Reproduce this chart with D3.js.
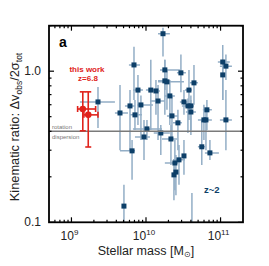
<!DOCTYPE html>
<meta charset="utf-8">
<script src="https://cdn.jsdelivr.net/npm/d3@7"></script>
<style>
body{margin:0;background:#fff;}
text{font-family:"Liberation Sans",Arial,sans-serif;}
</style>
<body>
<div id="chart"></div>
<script>
// z~2 sample: stellar mass (1e10 Msun), kinematic ratio and error ranges
var mass   = [1.69,0.69,1.79,2.94,10.7,11.8,10.7,1.79,1.91,4.4,0.78,1.16,1.36,3.77,2.09,1.45,3.23,0.227,0.61,0.855,3.65,4.0,6.56,4.0,0.448,0.711,2.23,2.68,5.98,6.37,11.8,1.03,1.58,0.94,2.16,5.6,7.2,0.65,3.23,2.77,2.44,2.52,2.37,0.506,4.13];
var massLo = [1.45,0.59,1.54,2.6,9.2,9.8,10.0,1.45,1.45,3.88,0.67,0.998,1.13,3.33,1.79,1.13,2.85,0.13,0.522,0.757,3.03,null,5.79,3.43,0.383,0.61,1.91,2.3,4.97,null,9.8,0.668,1.27,0.711,1.64,4.97,6.17,0.448,null,2.3,1.79,null,null,null,null];
var massHi = [2.09,0.83,2.85,3.43,13.3,14.2,11.4,1.97,3.23,4.97,0.91,1.36,1.54,4.13,2.44,1.79,3.65,0.383,0.711,1.24,4.4,null,7.65,4.67,0.573,0.883,2.68,3.03,7.65,null,14.2,1.64,2.09,1.13,2.6,6.17,9.5,0.711,null,3.33,2.68,null,null,null,null];
var ratio   = [1.77,1.10,1.02,0.975,1.15,1.08,0.945,0.863,0.85,0.837,0.75,0.75,0.74,0.75,0.686,0.635,0.626,0.626,0.589,0.598,0.589,0.589,0.555,0.537,0.529,0.514,0.506,0.455,0.476,0.476,0.476,0.415,0.39,0.367,0.356,0.316,0.288,0.297,0.275,0.259,0.247,0.215,0.206,0.128,0.085];
var ratioLo = [1.25,0.645,0.75,0.725,0.645,0.875,0.645,0.514,0.555,0.60,0.441,0.408,0.514,0.476,0.441,0.35,0.514,0.42,0.30,0.35,0.39,0.408,0.408,0.378,0.30,0.408,0.35,0.30,0.35,0.30,0.30,0.35,0.279,0.258,0.239,0.239,0.258,0.191,0.206,0.177,0.163,0.151,0.14,0.09,0.07];
var ratioHi = [1.94,1.45,1.19,1.29,1.49,1.29,1.19,1.19,1.02,1.10,0.945,1.19,0.875,1.02,0.875,0.81,0.75,0.785,0.75,0.69,0.66,0.69,0.645,0.645,0.81,0.645,0.69,0.555,0.60,0.555,0.75,0.476,0.441,0.476,0.441,0.476,0.35,0.35,0.35,0.325,0.35,0.279,0.258,0.177,0.156];

// this work, z=6.8
var redMass    = [0.142,0.168];
var redMassLo  = [0.121,0.147];
var redMassHi  = [0.211,0.227];
var redRatio   = [0.562,0.514];
var redRatioLo = [0.403,0.315];
var redRatioHi = [0.73,0.73];

var yMajor = [0.1, 1];
var yMinor = [0.2,0.3,0.4,0.5,0.6,0.7,0.8,0.9,2];
var xMajor = [1e9, 1e10, 1e11];
var xMinor = [6e8,7e8,8e8,9e8,2e9,3e9,4e9,5e9,6e9,7e9,8e9,9e9,2e10,3e10,4e10,5e10,6e10,7e10,8e10,9e10];
var divide = 0.4;

var width = 269, height = 266;
var x = d3.scaleLog().domain([5e8, 2e11]).range([49, 243]);
var y = d3.scaleLog().domain([0.1, 2]).range([222.3, 25.7]);

var svg = d3.select("#chart").append("svg")
    .attr("width", width)
    .attr("height", height);

svg.append("defs").append("clipPath").attr("id", "plot")
  .append("rect")
    .attr("x", 49).attr("y", 25.7)
    .attr("width", 194).attr("height", 196.6);

var navy = "#0d3f68", errc = "#93aec6", red = "#e0231c";

var blue = mass.map(function(m, i){
    return {m: m*1e10, v: ratio[i], mlo: massLo[i] && massLo[i]*1e10, mhi: massHi[i] && massHi[i]*1e10, vlo: ratioLo[i], vhi: ratioHi[i]};
});
var reds = redMass.map(function(m, i){
    return {m: m*1e10, v: redRatio[i], mlo: redMassLo[i]*1e10, mhi: redMassHi[i]*1e10, vlo: redRatioLo[i], vhi: redRatioHi[i]};
});

var plot = svg.append("g").attr("clip-path", "url(#plot)");

// error bars of z~2 points
plot.selectAll("line.ev").data(blue).enter().append("line")
    .attr("x1", function(d){ return x(d.m); }).attr("x2", function(d){ return x(d.m); })
    .attr("y1", function(d){ return y(d.vlo); }).attr("y2", function(d){ return y(d.vhi); })
    .attr("stroke", errc).attr("stroke-width", 1.5);
plot.selectAll("line.eh").data(blue.filter(function(d){ return d.mlo; })).enter().append("line")
    .attr("x1", function(d){ return x(d.mlo); }).attr("x2", function(d){ return x(d.mhi); })
    .attr("y1", function(d){ return y(d.v); }).attr("y2", function(d){ return y(d.v); })
    .attr("stroke", errc).attr("stroke-width", 1.5);

// rotation / dispersion divide
svg.append("line")
    .attr("x1", 49).attr("x2", 243)
    .attr("y1", y(divide)).attr("y2", y(divide))
    .attr("stroke", "#7a7a7a").attr("stroke-width", 1.5);

plot.selectAll("rect.pt").data(blue).enter().append("rect")
    .attr("x", function(d){ return x(d.m) - 2.5; })
    .attr("y", function(d){ return y(d.v) - 2.5; })
    .attr("width", 5).attr("height", 5)
    .attr("fill", navy);

// red points with capped error bars
var rg = svg.append("g").attr("stroke", red).attr("stroke-width", 1.6);
reds.forEach(function(d){
    var cx = x(d.m), cy = y(d.v);
    rg.append("line").attr("x1", cx).attr("x2", cx).attr("y1", y(d.vlo)).attr("y2", y(d.vhi));
    rg.append("line").attr("x1", cx-3).attr("x2", cx+3).attr("y1", y(d.vlo)).attr("y2", y(d.vlo));
    rg.append("line").attr("x1", cx-3).attr("x2", cx+3).attr("y1", y(d.vhi)).attr("y2", y(d.vhi));
    rg.append("line").attr("x1", x(d.mlo)).attr("x2", x(d.mhi)).attr("y1", cy).attr("y2", cy);
    rg.append("line").attr("x1", x(d.mlo)).attr("x2", x(d.mlo)).attr("y1", cy-3).attr("y2", cy+3);
    rg.append("line").attr("x1", x(d.mhi)).attr("x2", x(d.mhi)).attr("y1", cy-3).attr("y2", cy+3);
    rg.append("circle").attr("cx", cx).attr("cy", cy).attr("r", 3.3).attr("fill", red).attr("stroke", "none");
});

// frame and inward ticks
svg.append("rect")
    .attr("x", 49).attr("y", 25.7).attr("width", 194).attr("height", 196.6)
    .attr("fill", "none").attr("stroke", "#000").attr("stroke-width", 1.8);

var tk = svg.append("g").attr("stroke", "#000").attr("stroke-width", 1.2);
function yticks(vals, len){
    vals.forEach(function(v){
        tk.append("line").attr("x1", 49).attr("x2", 49+len).attr("y1", y(v)).attr("y2", y(v));
        tk.append("line").attr("x1", 243).attr("x2", 243-len).attr("y1", y(v)).attr("y2", y(v));
    });
}
function xticks(vals, len){
    vals.forEach(function(v){
        tk.append("line").attr("y1", 222.3).attr("y2", 222.3-len).attr("x1", x(v)).attr("x2", x(v));
        tk.append("line").attr("y1", 25.7).attr("y2", 25.7+len).attr("x1", x(v)).attr("x2", x(v));
    });
}
yticks(yMajor, 5); yticks(yMinor, 2.5);
xticks(xMajor, 5); xticks(xMinor, 2.5);

// tick labels
svg.selectAll("text.yl").data(yMajor).enter().append("text")
    .attr("x", 41).attr("y", function(d){ return y(d) + 4; })
    .attr("text-anchor", "end").attr("font-size", 12)
    .attr("fill", "#222")
    .text(function(d){ return d3.format(".1f")(d); });

xMajor.forEach(function(v){
    var t = svg.append("text")
        .attr("x", x(v) - 2).attr("y", 240)
        .attr("text-anchor", "middle").attr("font-size", 12).attr("fill", "#222");
    t.append("tspan").text("10");
    t.append("tspan").attr("dy", -5).attr("font-size", 8).text(Math.round(Math.log10(v)));
});

// axis titles
svg.append("text")
    .attr("x", 146).attr("y", 255)
    .attr("text-anchor", "middle").attr("font-size", 12.5).attr("fill", "#222")
    .html('Stellar mass [M<tspan font-size="8" dy="2">⊙</tspan><tspan dy="-2">]</tspan>');

var yl = svg.append("text")
    .attr("transform", "translate(19,127) rotate(-90)")
    .attr("text-anchor", "middle").attr("font-size", 12.8).attr("fill", "#222");
yl.append("tspan").text("Kinematic ratio: Δv");
yl.append("tspan").attr("dy", 3).attr("font-size", 8.5).text("obs");
yl.append("tspan").attr("dy", -3).text("/2σ");
yl.append("tspan").attr("dy", 3).attr("font-size", 8.5).text("tot");

// annotations
svg.append("text").attr("x", 59).attr("y", 47)
    .attr("font-size", 14).attr("font-weight", "bold").text("a");
svg.append("text").attr("x", 87).attr("y", 72).attr("text-anchor", "middle")
    .attr("font-size", 8).attr("font-weight", "bold").attr("fill", red).text("this work");
svg.append("text").attr("x", 88).attr("y", 81).attr("text-anchor", "middle")
    .attr("font-size", 8).attr("font-weight", "bold").attr("fill", red).text("z=6.8");
svg.append("text").attr("x", 52).attr("y", 129)
    .attr("font-size", 6).attr("fill", "#777").text("rotation");
svg.append("text").attr("x", 52).attr("y", 139)
    .attr("font-size", 6).attr("fill", "#777").text("dispersion");
svg.append("text").attr("x", 204).attr("y", 193)
    .attr("font-size", 9.5).attr("font-weight", "bold").attr("fill", navy).text("z~2");
</script>
</body>
